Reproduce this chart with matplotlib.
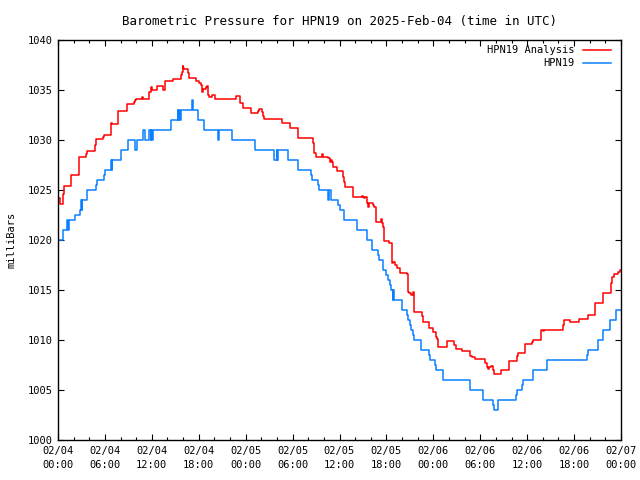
import matplotlib
matplotlib.use("Agg")
import matplotlib.pyplot as plt

# hours since 2025-02-04 00:00 UTC, pressure in mb (step data)
analysis_t = [0.0, 0.26, 0.68, 0.8, 1.7, 2.72, 3.58, 3.71, 4.69, 4.86, 5.72, 5.84,
              6.74, 6.82, 6.9, 7.67, 8.79, 9.68, 9.8, 9.98, 10.74, 10.83, 11.68, 11.9,
              12.0, 12.7, 13.39, 13.68, 14.67, 15.73, 15.82, 15.95, 16.03, 16.11, 16.67,
              16.79, 17.65, 18.07, 18.25, 18.38, 18.58, 18.93, 19.1, 19.18, 19.35, 19.7,
              20.08, 22.73, 23.28, 23.62, 24.68, 25.62, 25.74, 26.05, 26.26, 26.39, 28.69,
              29.67, 30.73, 32.65, 32.78, 32.96, 33.72, 33.93, 34.57, 34.79, 34.92, 35.08,
              35.21, 35.64, 36.41, 36.58, 36.7, 37.69, 38.84, 38.97, 39.13, 39.26, 39.48,
              39.68, 39.81, 40.32, 40.45, 40.63, 41.27, 41.44, 41.6, 41.73, 42.33, 42.68,
              42.88, 43.06, 43.32, 43.74, 44.6, 44.72, 44.93, 45.1, 45.36, 45.53, 46.51,
              46.64, 47.49, 47.92, 48.3, 48.42, 48.64, 49.71, 50.68, 50.86, 51.71, 52.69,
              52.91, 53.33, 54.65, 54.83, 55.03, 55.16, 55.38, 55.67, 55.8, 56.69, 57.72,
              58.66, 58.79, 59.73, 60.58, 60.71, 61.73, 61.99, 62.12, 64.63, 64.76, 65.48,
              66.67, 67.74, 68.72, 69.66, 69.74, 70.72, 70.85, 71.11, 71.65, 71.87, 72.0]
analysis_p = [1024.2, 1023.6, 1024.6, 1025.4, 1026.5, 1028.3, 1028.6, 1028.9, 1029.5, 1030.1, 1030.3, 1030.5,
              1031.5, 1031.7, 1031.6, 1032.9, 1033.6, 1033.8, 1034.0, 1034.1, 1034.3, 1034.1, 1034.8, 1035.3,
              1035.0, 1035.4, 1035.0, 1035.9, 1036.1, 1036.5, 1036.8, 1037.4, 1037.2, 1037.1, 1036.7,
              1036.2, 1035.9, 1035.7, 1035.5, 1034.8, 1035.1, 1035.3, 1035.4, 1034.5, 1034.3, 1034.5,
              1034.1, 1034.4, 1033.7, 1033.2, 1032.7, 1032.9, 1033.1, 1032.8, 1032.4, 1032.1, 1031.7,
              1031.2, 1030.2, 1029.7, 1028.7, 1028.3, 1028.6, 1028.3, 1028.2, 1027.8, 1028.0, 1027.8,
              1027.3, 1026.9, 1026.3, 1025.8, 1025.3, 1024.3, 1024.4, 1024.3, 1024.2, 1024.3, 1023.7,
              1023.3, 1023.7, 1023.5, 1023.3, 1021.8, 1022.1, 1021.7, 1021.3, 1019.9, 1019.7, 1017.7,
              1017.8, 1017.5, 1017.2, 1016.7, 1016.6, 1014.8, 1014.7, 1014.5, 1014.8, 1012.8, 1012.4,
              1011.8, 1011.2, 1010.8, 1010.3, 1010.1, 1009.3, 1009.9, 1009.5, 1009.1, 1008.9, 1008.4,
              1008.3, 1008.1, 1007.7, 1007.3, 1007.1, 1007.3, 1007.4, 1007.0, 1006.6, 1007.0, 1007.9,
              1008.4, 1008.7, 1009.6, 1009.8, 1010.0, 1011.0, 1010.9, 1011.0, 1011.5, 1012.0, 1011.8,
              1012.1, 1012.5, 1013.7, 1014.2, 1014.7, 1015.7, 1016.3, 1016.6, 1016.8, 1017.0, 1017.0]

obs_t = [0.0, 0.6, 1.2, 1.28, 1.36, 2.17, 2.85, 2.95, 3.02, 3.1, 3.67, 4.8, 4.95, 5.85, 5.97,
         6.8, 6.88, 6.96, 8.0, 8.9, 9.9, 10.1, 10.9, 11.1, 11.6, 11.85, 11.9, 11.98, 12.2,
         14.4, 15.3, 15.4, 15.5, 15.6, 15.7, 17.1, 17.3, 17.95, 18.7, 20.4, 20.65, 22.25,
         25.2, 27.65, 27.95, 28.0, 28.15, 29.4, 30.7, 32.4, 32.5, 33.3, 33.4, 34.5, 34.6,
         34.85, 35.85, 36.0, 36.6, 38.3, 39.5, 40.1, 40.2, 40.9, 41.0, 41.5, 42.0, 42.2,
         42.5, 42.6, 42.8, 42.9, 43.0, 43.95, 44.6, 44.8, 45.0, 45.1, 45.4, 45.5, 46.4,
         47.4, 47.55, 48.2, 48.35, 49.25, 52.75, 54.4, 55.6, 55.7, 56.3, 58.6, 58.75, 59.3,
         59.45, 60.7, 60.8, 62.5, 62.6, 67.6, 67.75, 69.0, 69.1, 69.65, 69.75, 70.6, 71.4, 72.0]
obs_p = [1020, 1021, 1022, 1021, 1022, 1022.5, 1023, 1024, 1023, 1024, 1025, 1025.5, 1026, 1026.5, 1027,
         1028, 1027, 1028, 1029, 1030, 1029, 1030, 1031, 1030, 1031, 1030, 1031, 1030, 1031,
         1032, 1033, 1032, 1033, 1032, 1033, 1034, 1033, 1032, 1031, 1030, 1031, 1030,
         1029, 1028, 1029, 1028, 1029, 1028, 1027, 1026.5, 1026, 1025.5, 1025, 1024, 1025,
         1024, 1023.5, 1023, 1022, 1021, 1020, 1019.5, 1019, 1018.5, 1018, 1017, 1016.5, 1016,
         1015.5, 1015, 1014, 1015, 1014, 1013, 1012.5, 1012, 1011.5, 1011, 1010.5, 1010, 1009,
         1008.5, 1008, 1007.5, 1007, 1006, 1005, 1004, 1003.5, 1003, 1004, 1004.5, 1005, 1005.5,
         1006, 1006.5, 1007, 1007.5, 1008, 1008.5, 1009, 1009.5, 1010, 1010.5, 1011, 1012, 1013, 1013]

xtick_hours = [0, 6, 12, 18, 24, 30, 36, 42, 48, 54, 60, 66, 72]
xtick_labels = ["02/04\n00:00", "02/04\n06:00", "02/04\n12:00", "02/04\n18:00",
                "02/05\n00:00", "02/05\n06:00", "02/05\n12:00", "02/05\n18:00",
                "02/06\n00:00", "02/06\n06:00", "02/06\n12:00", "02/06\n18:00",
                "02/07\n00:00"]
ytick_vals = [1000, 1005, 1010, 1015, 1020, 1025, 1030, 1035, 1040]

red = "#ff0000"
blue = "#0a80ff"

plt.rcParams["font.family"] = "DejaVu Sans Mono"
plt.rcParams["font.size"] = 7.5

fig = plt.figure(figsize=(6.4, 4.8), dpi=100)
ax = fig.add_axes([58 / 640, 40 / 480, 563 / 640, 400 / 480])

ax.step(analysis_t, analysis_p, where="post", color=red, lw=1.1)
ax.step(obs_t, obs_p, where="post", color=blue, lw=1.1)

ax.set_xlim(0, 72)
ax.set_ylim(1000, 1040)
ax.set_xticks(xtick_hours)
ax.set_xticklabels(xtick_labels, linespacing=1.6)
ax.set_xticks(range(0, 73, 2), minor=True)
ax.set_yticks(ytick_vals)
ax.tick_params(which="both", direction="in", top=True, right=True, color="black", width=0.8)
ax.tick_params(which="major", length=4, pad=4)
ax.tick_params(which="minor", length=2.5)
for s in ax.spines.values():
    s.set_linewidth(1.0)

ax.set_ylabel("milliBars", labelpad=8)
ax.set_title("Barometric Pressure for HPN19 on 2025-Feb-04 (time in UTC)", pad=11)

# gnuplot-style key: text right-aligned, sample line on the right
key = [("HPN19 Analysis", red), ("HPN19", blue)]
for i, (lab, col) in enumerate(key):
    yk = 0.975 - i * 0.033
    ax.text(0.918, yk, lab, transform=ax.transAxes, ha="right", va="center")
    ax.plot([0.932, 0.982], [yk, yk], transform=ax.transAxes, color=col, lw=1.1)

fig.savefig("out.png", dpi=100)
